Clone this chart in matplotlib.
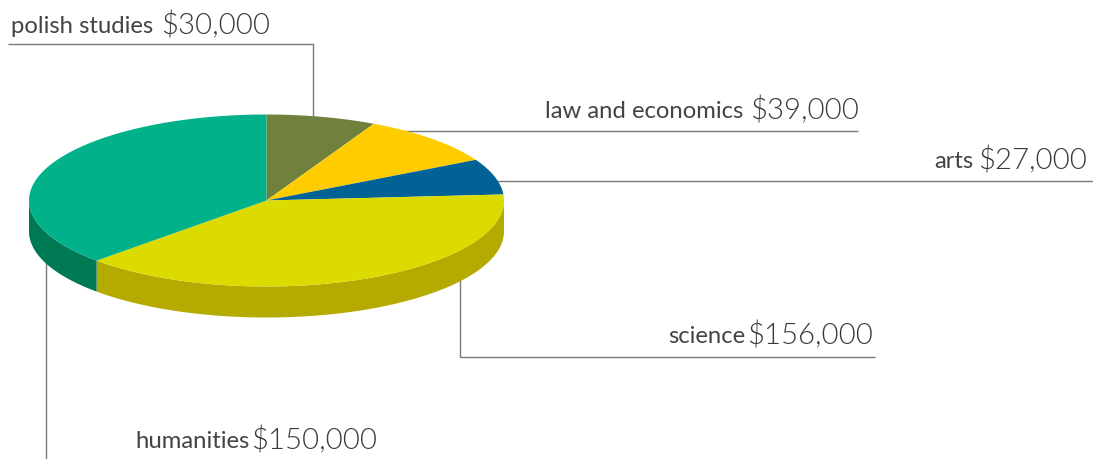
import numpy as np
import matplotlib
matplotlib.use("Agg")
import matplotlib.pyplot as plt

categories = ["polish studies", "law and economics", "arts", "science", "humanities"]
values = [30000, 39000, 27000, 156000, 150000]
value_labels = ["$30,000", "$39,000", "$27,000", "$156,000", "$150,000"]
top_colors = ["#6F813C", "#FFCC00", "#006295", "#DBDB00", "#00B189"]
side_colors = ["#586630", "#CCA300", "#004E77", "#B5AB00", "#007A55"]

W, H = 1093, 460
fig = plt.figure(figsize=(W / 100, H / 100), dpi=100)
ax = fig.add_axes([0, 0, 1, 1])
ax.set_xlim(0, W)
ax.set_ylim(H, 0)
ax.axis("off")

cx, cy, rx, ry, depth = 266.5, 201.5, 237.5, 86, 31
plt.rcParams["font.family"] = ["Lato", "DejaVu Sans"]

edges = 90 - np.cumsum([0] + values) / sum(values) * 360


def rim(a0, a1):
    t = np.radians(np.linspace(a0, a1, 200))
    return cx + rx * np.cos(t), cy - ry * np.sin(t)


# side walls (only the front half of the ellipse is visible)
for i in range(len(values)):
    hi, lo = min(edges[i], 0), max(edges[i + 1], -180)
    if lo < hi:
        x, y = rim(hi, lo)
        ax.fill(np.r_[x, x[::-1]], np.r_[y, y[::-1] + depth], color=side_colors[i], lw=0, zorder=2)

# top faces
for i in range(len(values)):
    x, y = rim(edges[i], edges[i + 1])
    ax.fill(np.r_[cx, x], np.r_[cy, y], color=top_colors[i], lw=0, zorder=3)

# leader lines, running behind the pie
line_c = "#7A7A7A"
leaders = [
    ([8, 313, 313], [44.5, 44.5, 125]),
    ([400, 858], [132, 132]),
    ([490, 1093], [181.5, 181.5]),
    ([460, 460, 875], [270, 357.5, 357.5]),
    ([46, 46], [250, 460]),
]
for xs, ys in leaders:
    ax.plot(xs, ys, color=line_c, lw=1.0, zorder=1, solid_capstyle="butt")

# labels: amount right end, name right end, text centre height
amount_right = [270, 859, 1087, 873, 377]
name_right = [153, 743, 973, 745, 250]
label_y = [25, 110.5, 160, 335, 440]
text_c = "#3A3A3A"
for name, val, xa, xn, yc in zip(categories, value_labels, amount_right, name_right, label_y):
    ax.text(xa, yc, val.replace("$", r"\$"), ha="right", va="center", fontsize=21.2,
            color=text_c, fontweight=300, zorder=5)
    ax.text(xn, yc + 1.5, name, ha="right", va="center", fontsize=17.2,
            color="#444444", fontweight=400, zorder=5)

fig.savefig("out.png", dpi=100, facecolor="white")
